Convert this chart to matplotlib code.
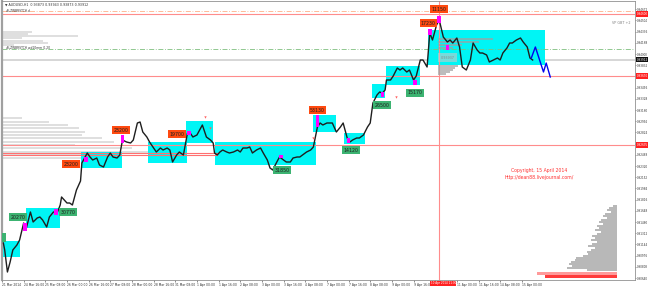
import numpy as np
import matplotlib
matplotlib.use("Agg")
import matplotlib.pyplot as plt
from matplotlib.transforms import blended_transform_factory

# ── price path (H1 bar index, price) ──────────────────────────────────────
bars = [1, 2, 4, 6, 8, 11, 13, 16, 18, 21, 23, 26, 28, 30, 33, 35, 38, 41, 43, 44,
        48, 50, 52, 55, 58, 59, 61, 63, 65, 67, 70, 72, 75, 78, 80, 82, 85, 87, 89, 92,
        95, 97, 100, 102, 104, 107, 109, 112, 114, 117, 119, 122, 124, 126, 129, 131, 134, 137, 139, 141,
        144, 146, 148, 151, 154, 156, 157, 159, 161, 163, 166, 168, 171, 174, 176, 178, 181, 183, 185, 188,
        191, 193, 196, 198, 200, 203, 205, 208, 210, 213, 215, 218, 220, 222, 225, 228, 230, 233, 235, 237,
        240, 242, 244, 247, 250, 252, 255, 257, 259, 262, 264, 267, 270, 272, 274, 277, 279, 281, 283, 284,
        287, 289, 292, 294, 296, 299, 301, 304, 306, 309, 311, 314, 316, 318, 321, 323, 326, 329, 331, 333,
        336, 338, 340, 343, 346, 348, 351, 353, 355, 358, 360, 363, 366, 368, 370, 373, 375, 377, 380, 383,
        385, 388, 390, 392]
prices = [0.91165, 0.9106, 0.9073, 0.9088, 0.9106, 0.91135, 0.9121, 0.91465, 0.9139, 0.9163,
          0.9148, 0.9154, 0.91555, 0.9151, 0.91405, 0.91555, 0.9163, 0.9163, 0.91735, 0.91855,
          0.91765, 0.91765, 0.91735, 0.9196, 0.92095, 0.92365, 0.9244, 0.92515, 0.92455, 0.9241,
          0.9244, 0.92335, 0.92305, 0.92455, 0.92515, 0.92455, 0.9244, 0.92485, 0.9271, 0.9268,
          0.92665, 0.9271, 0.92965, 0.9298, 0.9283, 0.92755, 0.9268, 0.9259, 0.9253, 0.9259,
          0.9256, 0.9259, 0.9256, 0.9238, 0.92485, 0.9253, 0.92485, 0.92815, 0.92815, 0.92755,
          0.92785, 0.9286, 0.92935, 0.92755, 0.9271, 0.92665, 0.92515, 0.92485, 0.9253, 0.9256,
          0.9253, 0.92515, 0.9253, 0.9256, 0.9253, 0.9259, 0.9259, 0.92605, 0.92515, 0.9256,
          0.9259, 0.92515, 0.9241, 0.9229, 0.9226, 0.9238, 0.92455, 0.9241, 0.9238, 0.9238,
          0.9244, 0.92455, 0.92455, 0.92485, 0.9253, 0.9256, 0.92605, 0.92905, 0.92965, 0.92935,
          0.92965, 0.92965, 0.92965, 0.9283, 0.92905, 0.92965, 0.9274, 0.9268, 0.9271, 0.9274,
          0.9274, 0.92785, 0.92905, 0.92965, 0.93265, 0.93385, 0.9343, 0.93415, 0.9346, 0.9361,
          0.9361, 0.9367, 0.9379, 0.9376, 0.9379, 0.9373, 0.9376, 0.9361, 0.9367, 0.9391,
          0.9391, 0.93805, 0.94315, 0.9421, 0.94435, 0.9451, 0.94255, 0.9418, 0.9421, 0.94165,
          0.9424, 0.94105, 0.93805, 0.9376, 0.9391, 0.94165, 0.9406, 0.94015, 0.94015, 0.93985,
          0.9388, 0.9391, 0.9394, 0.9391, 0.94015, 0.9409, 0.94165, 0.94165, 0.9421, 0.9424,
          0.9418, 0.94105, 0.9394, 0.9391]

proj_bars = [391, 394, 400, 402, 405]
proj_prices = [0.9394, 0.94105, 0.9373, 0.93865, 0.93655]

# ── zones (bar from, bar to, price low, price high) ───────────────────────
zone_x0 = [-2, 18, 58, 108, 136, 157, 230, 253, 273, 284, 315]
zone_x1 = [13, 43, 89, 137, 156, 232, 247, 268, 283, 309, 401]
zone_lo = [0.90955, 0.9139, 0.9229, 0.92365, 0.92665, 0.92335, 0.9283, 0.9265, 0.9334, 0.93535, 0.93835]
zone_hi = [0.91195, 0.9169, 0.9253, 0.9268, 0.92995, 0.9268, 0.93085, 0.92815, 0.9355, 0.9382, 0.9436]

# ── labels ────────────────────────────────────────────────────────────────
sell_txt = ["23200", "23200", "19700", "53130", "17230", "11150"]
sell_bar = [51, 88, 129, 233, 315, 323]
sell_px = [0.9235, 0.9286, 0.928, 0.9316, 0.94465, 0.94675]
buy_txt = ["20270", "30770", "31850", "14120", "26500", "15170"]
buy_bar = [12, 49, 207, 258, 281, 305]
buy_px = [0.91555, 0.9163, 0.9226, 0.9256, 0.93235, 0.93415]

mag_bar = [17, 40, 62, 89, 138, 206, 233, 256, 281, 305, 316, 323, 329]
mag_lo = [0.91345, 0.91585, 0.9238, 0.92665, 0.92785, 0.9244, 0.92905, 0.92665, 0.93355, 0.93535, 0.94285, 0.94465, 0.9406]
mag_hi = [0.91465, 0.91675, 0.92455, 0.92785, 0.92845, 0.92485, 0.93085, 0.9274, 0.9343, 0.9361, 0.94375, 0.9457, 0.94135]

arrow_bar = [150, 154, 230, 291]
arrow_px = [0.93055, 0.9289, 0.9274, 0.93355]

# ── volume profiles ───────────────────────────────────────────────────────
vp_left_px = [0.9433, 0.943, 0.9427, 0.9424, 0.94195, 0.94165, 0.94135,
              0.9304, 0.9298, 0.92935, 0.9289, 0.9283, 0.92785, 0.9274, 0.9268,
              0.92635, 0.9259, 0.9253, 0.92485, 0.9244]
vp_left_len = [22, 19, 56, 15, 30, 34, 9,
               15, 35, 49, 57, 61, 59, 74, 83, 54, 96, 109, 79, 59]

vp_right_px = [0.9172, 0.9169, 0.9166, 0.9163, 0.916, 0.9157, 0.9154, 0.9151, 0.9148, 0.9145,
               0.9142, 0.9139, 0.9136, 0.9133, 0.913, 0.9127, 0.9124, 0.9121, 0.9118, 0.9115,
               0.9112, 0.9109, 0.9106, 0.9103, 0.91, 0.9097, 0.9094, 0.9091, 0.9088, 0.9085,
               0.9082, 0.9079, 0.9076]
vp_right_len = [3, 6, 7, 4, 9, 10, 7, 12, 13, 10, 15, 13, 16, 12, 15, 18, 16, 19, 15, 18,
                21, 16, 19, 22, 21, 25, 30, 31, 34, 35, 33, 37, 22]
vp_red_px = [0.90708, 0.90663]
vp_red_len = [59, 53]

vp_box_px = [0.94225, 0.9418, 0.94135, 0.9409, 0.9382, 0.9379, 0.9376, 0.9373, 0.937]
vp_box_len = [41, 30, 18, 11, 15, 13, 11, 9, 6]

# ── levels ────────────────────────────────────────────────────────────────
lvl_red = [0.946, 0.9367, 0.92635]
lvl_orange_dd = 0.94645
lvl_green_dd = 0.94075
last_price = 0.93912
left_pair = [0.9251, 0.9248]
vline_bar = 323

time_labels = ["21 Mar 2014", "24 Mar 16:00", "25 Mar 08:00", "26 Mar 00:00", "26 Mar 16:00",
               "27 Mar 08:00", "28 Mar 00:00", "28 Mar 16:00", "31 Mar 08:00", "1 Apr 00:00",
               "1 Apr 16:00", "2 Apr 08:00", "3 Apr 00:00", "3 Apr 16:00", "4 Apr 08:00",
               "7 Apr 00:00", "7 Apr 16:00", "8 Apr 08:00", "9 Apr 00:00", "9 Apr 16:00",
               "", "11 Apr 00:00", "11 Apr 16:00", "14 Apr 08:00", "15 Apr 00:00"]

# ── figure ────────────────────────────────────────────────────────────────
W, H = 650, 287
fig = plt.figure(figsize=(W / 100, H / 100), dpi=100)
fig.set_facecolor("white")
ax = fig.add_axes([2 / W, 7 / H, 633 / W, 279 / H])
ax.set_xlim(0, 467.6)
ax.set_ylim(0.9061, 0.94795)

trx = blended_transform_factory(ax.transAxes, ax.transData)

# volume profiles (behind everything)
ax.barh(vp_left_px, vp_left_len, height=0.0003, left=0, color="#d8d8d8", alpha=0.8, lw=0, zorder=1)
ax.barh(vp_right_px, [-v for v in vp_right_len], height=0.00026, left=454.2, color="#b8b8b8", lw=0, zorder=1)
ax.barh(vp_red_px[0], -vp_red_len[0], height=0.00045, left=454.2, color="#ff9a9a", lw=0, zorder=1)
ax.barh(vp_red_px[1], -vp_red_len[1], height=0.00045, left=454.2, color="#ff3b3b", lw=0, zorder=1)

# zones
for x0, x1, lo, hi in zip(zone_x0, zone_x1, zone_lo, zone_hi):
    ax.bar(x0, hi - lo, bottom=lo, width=x1 - x0, align="edge", color="#00f5f5", lw=0, zorder=2)
ax.barh(vp_box_px, vp_box_len, height=0.00022, left=322, color="#a0a0a0", alpha=0.7, lw=0, zorder=3)
ax.bar(322, 0.00135, bottom=0.9388, width=14, align="edge", color="#c8c8c8", alpha=0.6, lw=0, zorder=3)
ax.text(329, 0.93947, "0.93937", fontsize=2.4, color="#888888", ha="center", va="center", zorder=4)

# levels
ax.axhline(lvl_orange_dd, color="#ffb088", lw=0.6, ls=(0, (6, 2, 1, 2)), zorder=2)
ax.axhline(lvl_green_dd, color="#7fbf7f", lw=0.6, ls=(0, (6, 2, 1, 2)), zorder=2)
for p in lvl_red:
    ax.axhline(p, color="#ff8c8c", lw=0.8, zorder=2)
ax.axhline(last_price, color="#d0d0d0", lw=1.2, zorder=1.5)
for p in left_pair:
    ax.plot([0, 159], [p, p], color="#ff7070", lw=0.8, zorder=2)
ax.axvline(vline_bar, color="#ff8c8c", lw=0.8, zorder=2)

# price
ax.plot(bars, prices, color="#1e1e1e", lw=1.0, zorder=5)
ax.plot(proj_bars, proj_prices, color="#0000ee", lw=1.0, zorder=5)

# signal bars and arrows
ax.bar(mag_bar, [h - l for h, l in zip(mag_hi, mag_lo)], bottom=mag_lo, width=2.6,
       color="#ff00ff", lw=0, zorder=6)
ax.scatter(arrow_bar, arrow_px, marker="v", s=3, color="#ff6060", lw=0, zorder=6)

for t, x, y in zip(sell_txt, sell_bar, sell_px):
    ax.text(x, y, t, fontsize=3.4, color="#202020", ha="center", va="center", zorder=7,
            bbox=dict(boxstyle="square,pad=0.3", fc="#ff4a10", ec="none"))
for t, x, y in zip(buy_txt, buy_bar, buy_px):
    ax.text(x, y, t, fontsize=3.4, color="#202020", ha="center", va="center", zorder=7,
            bbox=dict(boxstyle="square,pad=0.3", fc="#3cb371", ec="none"))
ax.bar(-1, 0.0013, bottom=0.9118, width=4, align="edge", color="#3cb371", lw=0, zorder=7)

# texts
ax.text(397, 0.9226, "Copyright, 15 April 2014", fontsize=3.3, color="#ff3030", ha="center", va="center")
ax.text(397, 0.92155, "http://dean88.livejournal.com/", fontsize=3.3, color="#ff3030", ha="center", va="center")
ax.text(0.993, 0.94465, "VP GBT +2", transform=trx, fontsize=2.4, color="#808080", ha="right", va="center")
ax.text(0.004, 0.995, "\u25bc AUDUSD,H1  0.93873 0.93943 0.93873 0.93912", transform=ax.transAxes,
        fontsize=2.3, color="#333333", ha="left", va="top")
ax.text(0.006, 0.972, "#LZWBRSTCH d", transform=ax.transAxes, fontsize=2.2, color="#333333", ha="left", va="top")
ax.text(0.006, 0.838, "#LZWBRSTCH wd10mm 0.20", transform=ax.transAxes, fontsize=2.2, color="#333333",
        ha="left", va="top")

# price axis
ax.yaxis.tick_right()
yt = 0.9064 + 0.00168 * np.arange(25)
ax.set_yticks(yt)
ax.set_yticklabels([f"{v:.5f}" for v in yt])
ax.tick_params(axis="y", labelsize=2.0, length=1.0, width=0.4, pad=0.6, colors="#333333")
for p in lvl_red:
    ax.text(1.0025, p, f"{p:.5f}", transform=trx, fontsize=2.0, color="white", ha="left", va="center",
            bbox=dict(boxstyle="square,pad=0.2", fc="#ff2020", ec="none"), zorder=10, clip_on=False)
ax.text(1.0025, last_price, f"{last_price:.5f}", transform=trx, fontsize=2.0, color="white", ha="left",
        va="center", bbox=dict(boxstyle="square,pad=0.2", fc="#101010", ec="none"), zorder=10, clip_on=False)

# time axis
ax.set_xticks([16 * i for i in range(len(time_labels))])
ax.set_xticklabels(time_labels)
for lbl in ax.get_xticklabels():
    lbl.set_ha("left")
ax.tick_params(axis="x", labelsize=2.2, length=1.5, width=0.4, pad=0.8, colors="#333333")
ax.text(vline_bar + 3, -0.005, "10 Apr 2014 11:00",
        transform=blended_transform_factory(ax.transData, ax.transAxes),
        fontsize=2.0, color="white", ha="center", va="top", clip_on=False, zorder=10,
        bbox=dict(boxstyle="square,pad=0.2", fc="#ff2020", ec="none"))

for s in ["top", "right", "bottom"]:
    ax.spines[s].set_color("#909090")
    ax.spines[s].set_linewidth(0.6)
ax.spines["left"].set_color("#a0a0a0")
ax.spines["left"].set_linewidth(1.6)

fig.savefig("out.png", dpi=100, facecolor="white")
